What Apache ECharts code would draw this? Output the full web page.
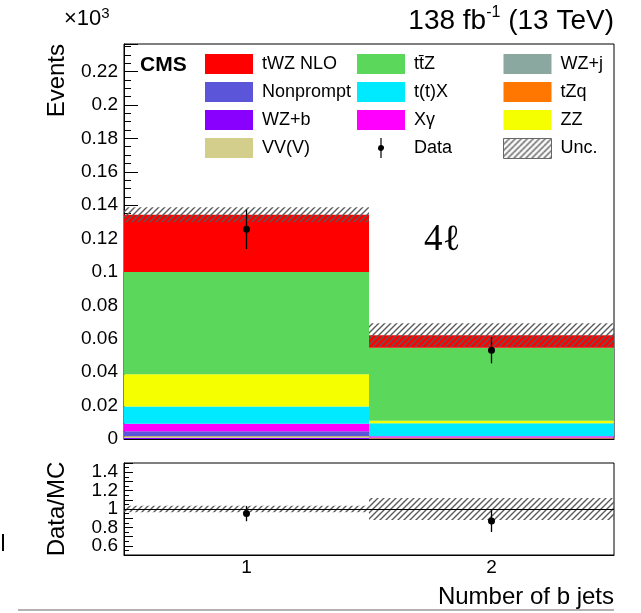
<!DOCTYPE html>
<html><head><meta charset="utf-8">
<script src="https://cdn.jsdelivr.net/npm/echarts@6/dist/echarts.min.js"></script>
<style>html,body{margin:0;padding:0;background:#fff}#c{width:641px;height:613px}</style>
</head><body><div id="c"></div>
<script>
// ---- data (units of 10^3 events) ----
const categories = ['1', '2'];
const wzb       = [0.0006, 0.0001];
const vvv       = [0.0006, 0.0001];
const wzj       = [0.0004, 0.0001];
const tzq       = [0.0002, 0.0004];
const nonprompt = [0.0028, 0.0002];
const xgamma    = [0.0046, 0.0007];
const ttx       = [0.0102, 0.0078];
const zz        = [0.0193, 0.0015];
const ttz       = [0.0613, 0.0437];
const twz       = [0.0343, 0.0075];
const uncAbs    = [0.0045, 0.0072];
const dataVal   = [0.1256, 0.0531];
const dataErr   = [0.0118, 0.0078];
const ratioVal  = [0.95, 0.87];
const ratioErr  = [0.083, 0.12];
const ratioUnc  = [0.035, 0.12];

const FONT = 'Liberation Sans, Arial, Helvetica, sans-serif';

const stackDefs = [
  {name: 'WZ+b', color: '#8a00ff', vals: wzb},
  {name: 'VV(V)', color: '#d4ce8c', vals: vvv},
  {name: 'WZ+j', color: '#8aa8a0', vals: wzj},
  {name: 'tZq', color: '#ff7700', vals: tzq},
  {name: 'Nonprompt', color: '#5a55d9', vals: nonprompt},
  {name: 'X\u03b3', color: '#ff00ff', vals: xgamma},
  {name: 't(t)X', color: '#00eaff', vals: ttx},
  {name: 'ZZ', color: '#f5ff00', vals: zz},
  {name: 'tt\u0304Z', color: '#5bd75b', vals: ttz},
  {name: 'tWZ NLO', color: '#ff0000', vals: twz}
];
const totals = categories.map((c, i) => stackDefs.reduce((s, d) => s + d.vals[i], 0));

function hatchCanvas() {
  const c = document.createElement('canvas');
  c.width = 6; c.height = 6;
  const g = c.getContext('2d');
  g.strokeStyle = '#5a5a5a'; g.lineWidth = 1.4;
  g.beginPath();
  g.moveTo(0, 6); g.lineTo(6, 0);
  g.moveTo(-1, 1); g.lineTo(1, -1);
  g.moveTo(5, 7); g.lineTo(7, 5);
  g.stroke();
  return c;
}
const hatch = {image: hatchCanvas(), repeat: 'repeat'};

function bandItem(params, api) {
  const i = api.value(0), lo = api.value(1), hi = api.value(2);
  const pTop = api.coord([i, hi]), pBot = api.coord([i, lo]);
  const w = api.size([1, 0])[0];
  return {type: 'rect', shape: {x: pTop[0] - w / 2, y: pTop[1], width: w, height: pBot[1] - pTop[1]},
          style: {fill: hatch}};
}
function errItem(params, api) {
  const i = api.value(0), v = api.value(1), e = api.value(2);
  const c = api.coord([i, v]), t = api.coord([i, v + e]), b = api.coord([i, v - e]);
  return {type: 'group', children: [
    {type: 'line', shape: {x1: c[0], y1: t[1], x2: c[0], y2: b[1]}, style: {stroke: '#000', lineWidth: 1.3}},
    {type: 'circle', shape: {cx: c[0], cy: c[1], r: 3.5}, style: {fill: '#000'}}
  ]};
}

const series = stackDefs.map(d => ({
  name: d.name, type: 'bar', stack: 'mc', xAxisIndex: 0, yAxisIndex: 0,
  barWidth: '100%', barCategoryGap: '0%', itemStyle: {color: d.color}, data: d.vals, z: 2,
  emphasis: {disabled: true}
}));
series.push({
  name: 'Unc.', type: 'custom', xAxisIndex: 0, yAxisIndex: 0, z: 3,
  itemStyle: {color: hatch, borderColor: '#666', borderWidth: 1},
  renderItem: bandItem, encode: {x: 0, y: [1, 2]},
  data: totals.map((t, i) => [i, t - uncAbs[i], t + uncAbs[i]])
});
series.push({
  name: 'Data', type: 'custom', xAxisIndex: 0, yAxisIndex: 0, z: 4,
  itemStyle: {color: '#000'},
  renderItem: errItem, encode: {x: 0, y: [1]},
  data: dataVal.map((v, i) => [i, v, dataErr[i]])
});
series.push({
  name: 'ratioUnc', type: 'custom', xAxisIndex: 1, yAxisIndex: 1, z: 3,
  renderItem: bandItem, encode: {x: 0, y: [1, 2]},
  data: ratioUnc.map((u, i) => [i, 1 - u, 1 + u]),
  markLine: {silent: true, symbol: 'none', label: {show: false}, animation: false,
             lineStyle: {color: '#000', type: 'solid', width: 1}, data: [{yAxis: 1}]}
});
series.push({
  name: 'ratioData', type: 'custom', xAxisIndex: 1, yAxisIndex: 1, z: 4,
  renderItem: errItem, encode: {x: 0, y: [1]},
  data: ratioVal.map((v, i) => [i, v, ratioErr[i]])
});

const dataIcon = 'path://M4.4,0H5.6V7.06A3,3 0 0 1 5.6,12.94V20H4.4V12.94A3,3 0 0 1 4.4,7.06Z';
function legendCol(left, names) {
  return {
    orient: 'vertical', left: left, top: 54, itemWidth: 48, itemHeight: 20, itemGap: 8,
    icon: 'rect', selectedMode: false, padding: 0,
    textStyle: {fontFamily: FONT, fontSize: 18, color: '#000', padding: [0, 0, 0, 4]},
    data: names.map(n => {
      if (n === 'Data') return {name: n, icon: dataIcon};
      if (n === 'Unc.') return {name: n, itemStyle: {color: hatch, borderColor: '#666', borderWidth: 1}};
      return {name: n};
    })
  };
}

const option = {
  animation: false,
  backgroundColor: '#fff',
  textStyle: {fontFamily: FONT},
  grid: [
    {left: 124, top: 44, width: 490, height: 395, show: true, borderColor: '#000', borderWidth: 1, backgroundColor: 'transparent'},
    {left: 124, top: 463, width: 490, height: 92, show: true, borderColor: '#000', borderWidth: 1, backgroundColor: 'transparent'}
  ],
  xAxis: [
    {type: 'category', gridIndex: 0, data: categories, boundaryGap: true,
     axisLine: {lineStyle: {color: '#000'}}, axisTick: {inside: true, length: 12, interval: 0, lineStyle: {color: '#000'}},
     axisLabel: {show: false}, splitLine: {show: false}},
    {type: 'category', gridIndex: 1, data: categories, boundaryGap: true,
     axisLine: {lineStyle: {color: '#000'}}, axisTick: {inside: true, length: 7, interval: 0, lineStyle: {color: '#000'}},
     axisLabel: {fontSize: 19, color: '#000', fontFamily: FONT, margin: 3}, splitLine: {show: false}}
  ],
  yAxis: [
    {type: 'value', gridIndex: 0, min: 0, max: 0.2365, interval: 0.02,
     axisLine: {show: true, lineStyle: {color: '#000'}},
     axisTick: {show: true, inside: true, length: 14, lineStyle: {color: '#000'}},
     minorTick: {show: true, splitNumber: 4, length: 7, lineStyle: {color: '#000'}},
     axisLabel: {fontSize: 19, color: '#000', fontFamily: FONT, margin: 6, showMaxLabel: false,
                 formatter: v => String(+v.toFixed(2))},
     splitLine: {show: false}},
    {type: 'value', gridIndex: 1, min: 0.5, max: 1.5, interval: 0.1,
     axisLine: {show: true, lineStyle: {color: '#000'}},
     axisTick: {show: true, inside: true, length: 9, lineStyle: {color: '#000'}},
     minorTick: {show: true, splitNumber: 2, length: 5, lineStyle: {color: '#000'}},
     axisLabel: {fontSize: 19, color: '#000', fontFamily: FONT, margin: 6, showMinLabel: false, showMaxLabel: false,
                 formatter: v => { const r = Math.round(v * 10); return (r % 2 === 0 && r >= 6 && r <= 14) ? String(r / 10) : ''; }},
     splitLine: {show: false}}
  ],
  legend: [
    legendCol(205, ['tWZ NLO', 'Nonprompt', 'WZ+b', 'VV(V)']),
    legendCol(357, ['tt\u0304Z', 't(t)X', 'X\u03b3', 'Data']),
    legendCol(503, ['WZ+j', 'tZq', 'ZZ', 'Unc.'])
  ],
  title: [
    {text: '{a|138 fb}{s|-1}{a| (13 TeV)}', right: 27, top: 5, padding: 0,
     textStyle: {fontWeight: 'normal', rich: {a: {fontFamily: FONT, fontSize: 28, fontWeight: 'normal', lineHeight: 32, color: '#000'},
                        s: {fontFamily: FONT, fontSize: 16, fontWeight: 'normal', lineHeight: 16, verticalAlign: 'top', color: '#000'}}}},
    {text: '{a|\u00d710}{s|3}', left: 64, top: 6, padding: 0,
     textStyle: {fontWeight: 'normal', rich: {a: {fontFamily: FONT, fontSize: 22, fontWeight: 'normal', lineHeight: 26, color: '#000'},
                        s: {fontFamily: FONT, fontSize: 15, fontWeight: 'normal', lineHeight: 15, verticalAlign: 'top', color: '#000'}}}},
    {text: 'CMS', left: 140, top: 55, padding: 0, textStyle: {fontFamily: FONT, fontSize: 21, fontWeight: 'bold', color: '#000'}},
    {text: '4\u2113', left: 424, top: 222, padding: 0, textStyle: {fontFamily: 'Liberation Serif, DejaVu Serif, serif', fontSize: 37, fontWeight: 'normal', color: '#000'}}
  ],
  graphic: [
    {type: 'text', x: 57, y: 44, rotation: Math.PI / 2,
     style: {text: 'Events', font: '24px ' + FONT, fill: '#000', align: 'right', verticalAlign: 'middle'}},
    {type: 'text', x: 57, y: 509, rotation: Math.PI / 2,
     style: {text: 'Data/MC', font: '24px ' + FONT, fill: '#000', align: 'center', verticalAlign: 'middle'}},
    {type: 'text', right: 27, top: 585,
     style: {text: 'Number of b jets', font: '24px ' + FONT, fill: '#000'}},
    {type: 'line', shape: {x1: 18, y1: 610, x2: 614, y2: 610}, style: {stroke: '#999', lineWidth: 1.5}},
    {type: 'line', shape: {x1: 3, y1: 534, x2: 3, y2: 551}, style: {stroke: '#000', lineWidth: 2}}
  ],
  series: series
};
const chart = echarts.init(document.getElementById('c'), null, {renderer: 'canvas'});
chart.setOption(option);
</script></body></html>
